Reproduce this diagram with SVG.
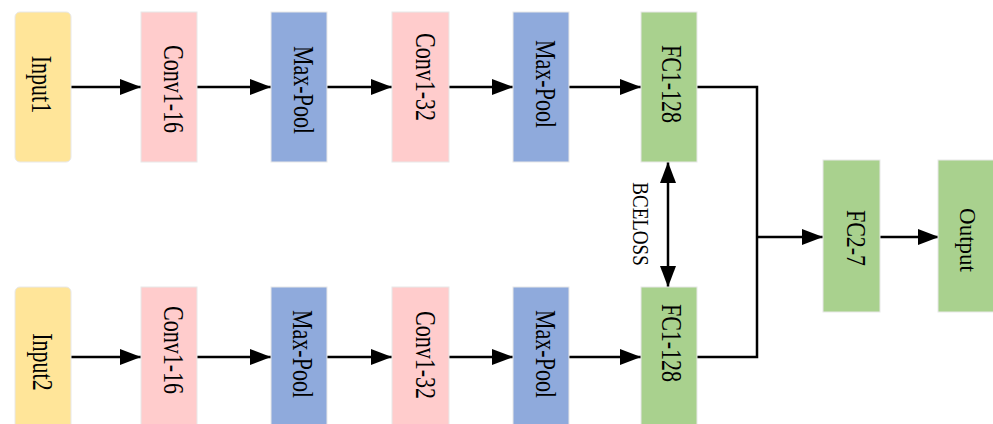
<svg xmlns="http://www.w3.org/2000/svg" width="993" height="424" viewBox="0 0 993 424">
<style>
.box{stroke:#e8e8e8;stroke-width:1}
.inp{fill:#FFE599}
.conv{fill:#FFCCCC}
.pool{fill:#8FAADC}
.fc{fill:#A9D18E}
.lbl{font-family:"Liberation Serif","Times New Roman",serif;font-size:22px;fill:#000;text-anchor:middle;dominant-baseline:central}
.ln{stroke:#000;stroke-width:2.5;fill:none}
</style>
<defs>
<marker id="ah" viewBox="0 0 21 16" refX="21" refY="8" markerWidth="21" markerHeight="16" markerUnits="userSpaceOnUse" orient="auto-start-reverse">
<path d="M0,0 L21,8 L0,16 z" fill="#000"/>
</marker>
</defs>
<rect width="993" height="424" fill="#fff"/>

<g id="connectors">
<line class="ln" x1="71" y1="87" x2="141" y2="87" marker-end="url(#ah)"/>
<line class="ln" x1="197" y1="87" x2="271" y2="87" marker-end="url(#ah)"/>
<line class="ln" x1="327" y1="87" x2="392" y2="87" marker-end="url(#ah)"/>
<line class="ln" x1="449" y1="87" x2="513" y2="87" marker-end="url(#ah)"/>
<line class="ln" x1="569" y1="87" x2="641" y2="87" marker-end="url(#ah)"/>
<line class="ln" x1="71" y1="357" x2="141" y2="357" marker-end="url(#ah)"/>
<line class="ln" x1="197" y1="357" x2="271" y2="357" marker-end="url(#ah)"/>
<line class="ln" x1="327" y1="357" x2="392" y2="357" marker-end="url(#ah)"/>
<line class="ln" x1="449" y1="357" x2="513" y2="357" marker-end="url(#ah)"/>
<line class="ln" x1="569" y1="357" x2="641" y2="357" marker-end="url(#ah)"/>
<line class="ln" x1="668" y1="162" x2="668" y2="287" marker-start="url(#ah)" marker-end="url(#ah)"/>
<polyline class="ln" points="697,87 757,87 757,357 697,357"/>
<line class="ln" x1="756" y1="237" x2="823" y2="237" marker-end="url(#ah)"/>
<line class="ln" x1="880" y1="237" x2="939" y2="237" marker-end="url(#ah)"/>
<text class="lbl" style="font-size:19px" transform="translate(640.5,224) rotate(90) scale(1,1.25)">BCELOSS</text>
</g>

<g id="input1"><rect class="box inp" x="15" y="12" width="56" height="150" rx="5"/><text class="lbl" transform="translate(42,84.5) rotate(90) scale(1,1.33)">Input1</text></g>
<g id="conv1a"><rect class="box conv" x="141" y="12" width="56" height="150"/><text class="lbl" transform="translate(173.5,89) rotate(90) scale(1,1.35)">Conv1-16</text></g>
<g id="pool1a"><rect class="box pool" x="271" y="12" width="56" height="150"/><text class="lbl" transform="translate(303.5,90) rotate(90) scale(1,1.35)">Max-Pool</text></g>
<g id="conv2a"><rect class="box conv" x="392" y="12" width="57" height="150"/><text class="lbl" transform="translate(425.5,77) rotate(90) scale(1,1.35)">Conv1-32</text></g>
<g id="pool2a"><rect class="box pool" x="513" y="12" width="56" height="150"/><text class="lbl" transform="translate(546,84) rotate(90) scale(1,1.35)">Max-Pool</text></g>
<g id="fc1a"><rect class="box fc" x="641" y="12" width="56" height="150"/><text class="lbl" transform="translate(671.5,84) rotate(90) scale(1,1.33)">FC1-128</text></g>

<g id="input2"><rect class="box inp" x="15" y="287" width="56" height="150" rx="5"/><text class="lbl" transform="translate(43,362) rotate(90) scale(1,1.33)">Input2</text></g>
<g id="conv1b"><rect class="box conv" x="141" y="287" width="56" height="150"/><text class="lbl" transform="translate(173.5,350) rotate(90) scale(1,1.35)">Conv1-16</text></g>
<g id="pool1b"><rect class="box pool" x="271" y="287" width="56" height="150"/><text class="lbl" transform="translate(303,354) rotate(90) scale(1,1.35)">Max-Pool</text></g>
<g id="conv2b"><rect class="box conv" x="392" y="287" width="57" height="150"/><text class="lbl" transform="translate(425.5,355) rotate(90) scale(1,1.35)">Conv1-32</text></g>
<g id="pool2b"><rect class="box pool" x="513" y="287" width="56" height="150"/><text class="lbl" transform="translate(546,354) rotate(90) scale(1,1.35)">Max-Pool</text></g>
<g id="fc1b"><rect class="box fc" x="641" y="287" width="56" height="150"/><text class="lbl" transform="translate(671.5,343) rotate(90) scale(1,1.33)">FC1-128</text></g>

<g id="fc2"><rect class="box fc" x="823" y="160" width="57" height="152"/><text class="lbl" transform="translate(856,238) rotate(90) scale(1,1.22)">FC2-7</text></g>
<g id="output"><rect class="box fc" x="938" y="160" width="57" height="152"/><text class="lbl" style="font-size:23px" transform="translate(967.5,240) rotate(90)">Output</text></g>
</svg>
